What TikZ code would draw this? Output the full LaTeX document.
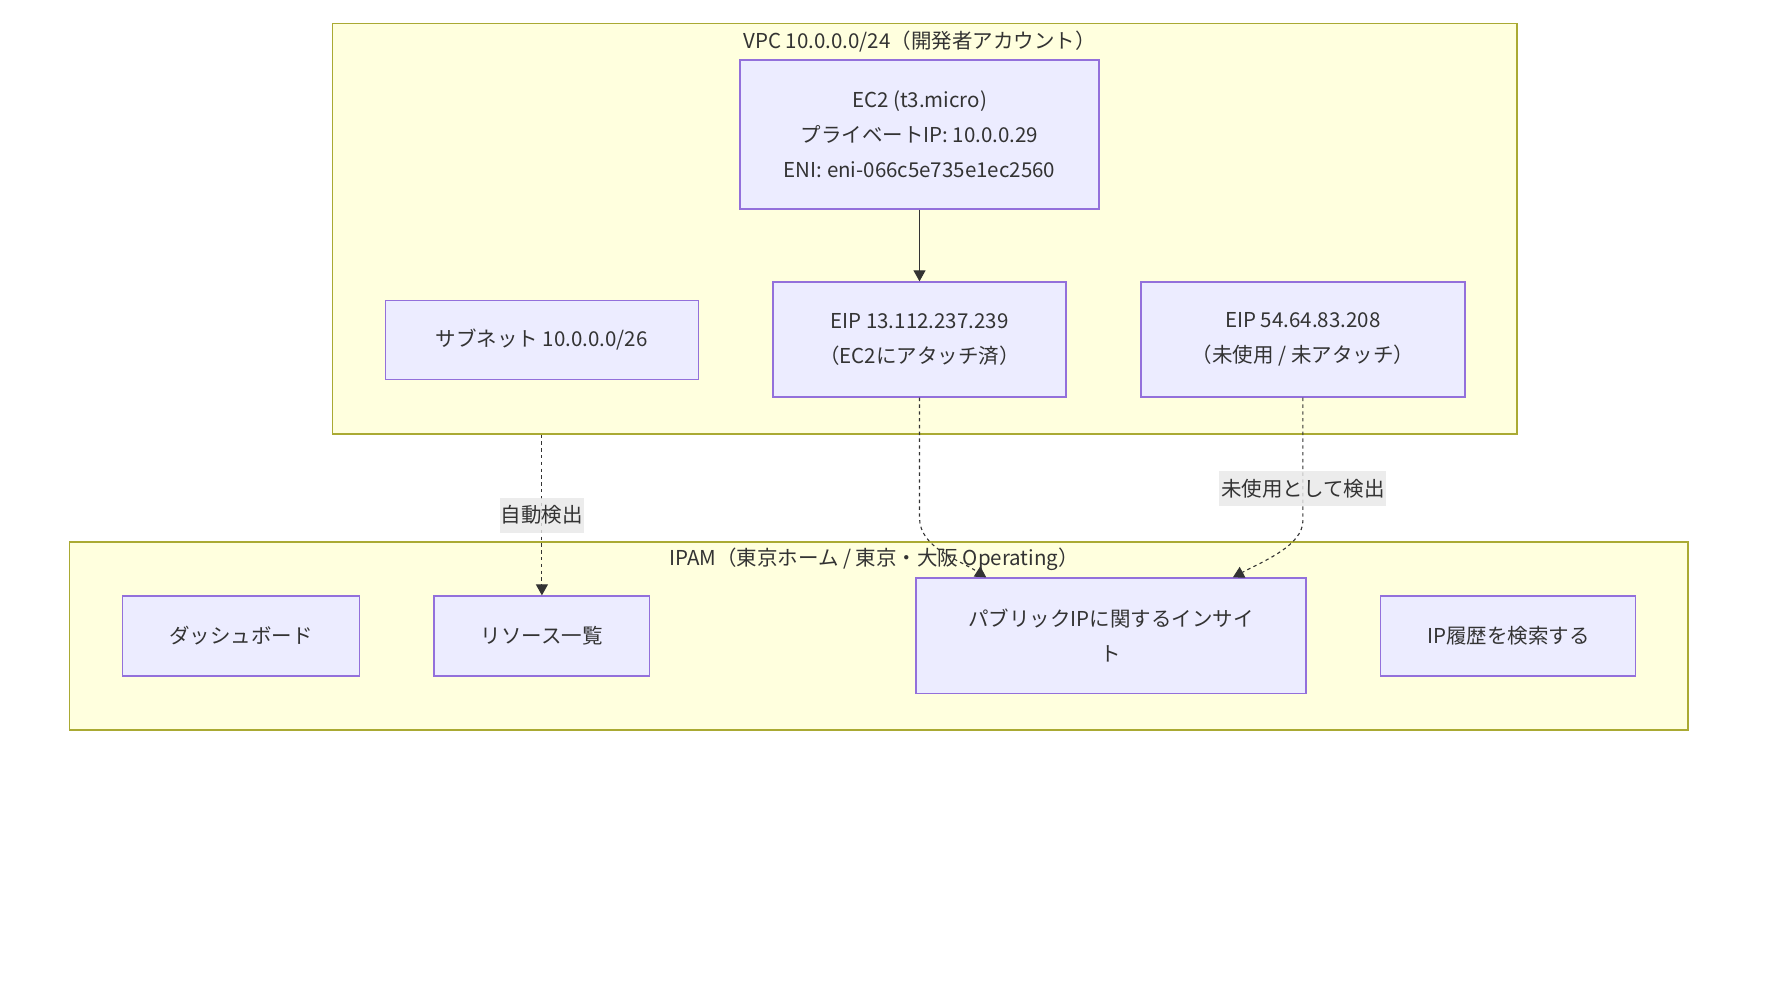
\documentclass[tikz,border=0pt]{standalone}
\usepackage{fontspec}
\setmainfont{Noto Sans CJK JP}
\usetikzlibrary{arrows.meta,calc}
\definecolor{clfill}{HTML}{FFFFDE}
\definecolor{clline}{HTML}{AAAA33}
\definecolor{ndfill}{HTML}{ECECFF}
\definecolor{ndline}{HTML}{9370DB}
\definecolor{ink}{HTML}{333333}
\definecolor{lblbg}{HTML}{E8E8E8}
\begin{document}
\begin{tikzpicture}[x=1pt,y=-1pt,
  txt/.style={font=\fontsize{20.5pt}{35pt}\selectfont, text=ink},
  cluster/.style={draw=clline, fill=clfill, line width=1.3pt, inner sep=0pt},
  box/.style={draw=ndline, fill=ndfill, line width=1.3pt, inner sep=0pt, align=center, txt},
  flow/.style={draw=ink, line width=1.1pt, -{Triangle[length=11pt,width=12pt]}},
  dotflow/.style={flow, dash pattern=on 3.4pt off 3.4pt},
  lbl/.style={fill=lblbg, fill opacity=0.8, text opacity=1, txt, inner sep=0pt, minimum height=35pt}]
\useasboundingbox[fill=white] (0,0) rectangle (1766,1006);

% clusters
\node[cluster, minimum width=1184.2pt, minimum height=410.7pt] (vpc) at (924.9,228.65) {};
\node[txt] (vpct) at (919.5,41.5) {VPC 10.0.0.0/24（開発者アカウント）};
\node[cluster, minimum width=1618.2pt, minimum height=188pt] (ipam) at (878.9,636) {};
\node[txt] (ipamt) at (874,559.5) {IPAM（東京ホーム / 東京・大阪 Operating）};

% VPC nodes
\node[box, minimum width=359pt, minimum height=149pt] (ec2) at (919.5,134.5)
  {EC2 (t3.micro)\\プライベートIP: 10.0.0.29\\ENI: eni-066c5e735e1ec2560};
\node[box, minimum width=313pt, minimum height=79pt] (subnet) at (541.7,339.7)
  {サブネット 10.0.0.0/26};
\node[box, minimum width=293pt, minimum height=115pt] (eip1) at (919.5,339.5)
  {EIP 13.112.237.239\\（EC2にアタッチ済）};
\node[box, minimum width=324pt, minimum height=115pt] (eip2) at (1302.9,339.5)
  {EIP 54.64.83.208\\（未使用 / 未アタッチ）};

% IPAM nodes
\node[box, minimum width=237.4pt, minimum height=80pt] (dash) at (241,636) {ダッシュボード};
\node[box, minimum width=215.7pt, minimum height=80pt] (res) at (541.9,636) {リソース一覧};
\node[box, minimum width=390pt, minimum height=115.3pt] (insight) at (1110.9,635.7)
  {パブリックIPに関するインサイ\\ト};
\node[box, minimum width=255pt, minimum height=80pt] (hist) at (1508.3,636) {IP履歴を検索する};

% connectors
\draw[flow] (ec2.south) -- (eip1.north);
\draw[dotflow] (res.north |- vpc.south) -- node[lbl, minimum width=83.6pt] {自動検出} (res.north);
\draw[dotflow] (eip1.south) -- ++(0,120) .. controls +(0,30) and +(-28,-18) .. ($(insight.north west)+(71,0)$);
\draw[dotflow] (eip2.south) -- node[lbl, pos=0.74, minimum width=167pt] {未使用として検出} ++(0,123)
  .. controls +(0,25) and +(30,-16) .. ($(insight.north west)+(317.6,0)$);
\end{tikzpicture}
\end{document}
